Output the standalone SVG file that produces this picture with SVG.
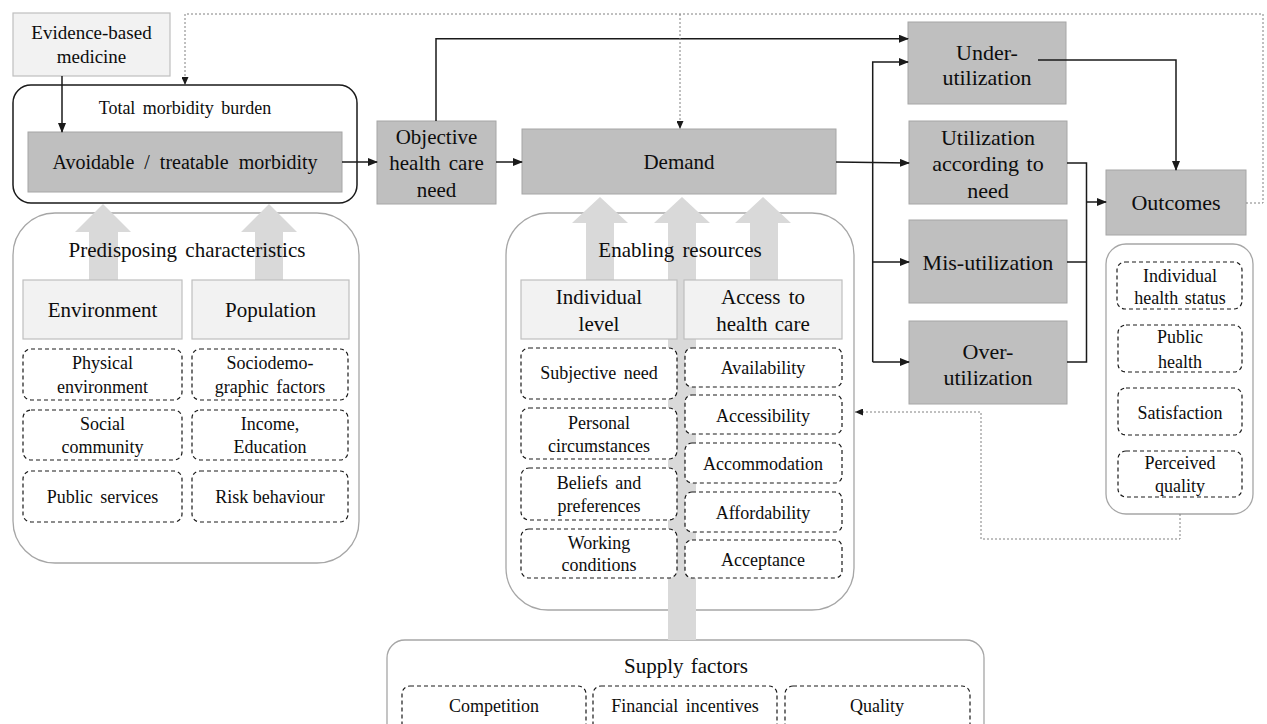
<svg xmlns="http://www.w3.org/2000/svg" width="1267" height="724" viewBox="0 0 1267 724">
<style>
text{font-family:"Liberation Serif","Times New Roman",serif;fill:#0d0d0d;text-anchor:middle}
.s18{font-size:18px}.s19{font-size:19px}.s20{font-size:20px}.s21{font-size:21px}.s22{font-size:22px}
.dark{fill:#bfbfbf;stroke:#a6a6a6;stroke-width:1}
.light{fill:#f2f2f2;stroke:#bfbfbf;stroke-width:1.2}
.panel{fill:#fff;stroke:#a6a6a6;stroke-width:1.3}
.dash{fill:#fff;stroke:#1a1a1a;stroke-width:1.2;stroke-dasharray:4,3}
.big{fill:#d9d9d9}
.ln{fill:none;stroke:#1a1a1a;stroke-width:1.5}
.dot{fill:none;stroke:#808080;stroke-width:1;stroke-dasharray:2,2}
</style>
<defs>
<marker id="ah" markerWidth="10" markerHeight="8" refX="9" refY="4" orient="auto" markerUnits="userSpaceOnUse"><path d="M0,0 L10,4 L0,8 Z" fill="#1a1a1a"/></marker>
<marker id="ahs" markerWidth="8" markerHeight="7" refX="8" refY="3.5" orient="auto" markerUnits="userSpaceOnUse"><path d="M0,0 L8,3.5 L0,7 Z" fill="#1a1a1a"/></marker>
</defs>

<!-- Panels -->
<g id="predisposing">
<rect class="panel" x="13" y="213" width="346" height="350" rx="42"/>
<path class="big" d="M89,280 V232 H75 L103,204 L131,232 H118 V280 Z"/>
<path class="big" d="M255,280 V232 H241 L269,204 L297,232 H283 V280 Z"/>
<text class="s21" x="187" y="257" word-spacing="3">Predisposing characteristics</text>
<rect class="light" x="23" y="280" width="159" height="59"/>
<text class="s21" x="102.5" y="317">Environment</text>
<rect class="light" x="192" y="280" width="157" height="59"/>
<text class="s21" x="270.5" y="317">Population</text>
<rect class="dash" x="23" y="349" width="159" height="51" rx="8"/>
<text class="s18" x="102.5" y="369">Physical</text><text class="s18" x="102.5" y="393">environment</text>
<rect class="dash" x="23" y="410" width="159" height="50" rx="8"/>
<text class="s18" x="102.5" y="430">Social</text><text class="s18" x="102.5" y="453">community</text>
<rect class="dash" x="23" y="471" width="159" height="51" rx="8"/>
<text class="s18" x="102.5" y="503" word-spacing="3">Public services</text>
<rect class="dash" x="192" y="349" width="156" height="51" rx="8"/>
<text class="s18" x="270" y="369">Sociodemo-</text><text class="s18" x="270" y="393" word-spacing="3">graphic factors</text>
<rect class="dash" x="192" y="410" width="156" height="50" rx="8"/>
<text class="s18" x="270" y="430">Income,</text><text class="s18" x="270" y="453">Education</text>
<rect class="dash" x="192" y="471" width="156" height="51" rx="8"/>
<text class="s18" x="270" y="503">Risk behaviour</text>
</g>

<g id="supply">
<rect class="panel" x="387" y="640" width="597" height="110" rx="18"/>
<text class="s21" x="686" y="673" word-spacing="2">Supply factors</text>
<rect class="dash" x="402" y="686" width="184" height="55" rx="8"/>
<text class="s18" x="494" y="712">Competition</text>
<rect class="dash" x="593" y="686" width="184" height="55" rx="8"/>
<text class="s18" x="685" y="712" word-spacing="3">Financial incentives</text>
<rect class="dash" x="785" y="686" width="185" height="55" rx="8"/>
<text class="s18" x="877" y="712">Quality</text>
</g>

<g id="enabling">
<rect class="panel" x="506" y="213" width="348" height="397" rx="42"/>
<path class="big" d="M586,280 V223 H572 L600,197 L628,223 H614 V280 Z"/>
<path class="big" d="M668,640 V223 H654 L682,197 L710,223 H696 V640 Z"/>
<path class="big" d="M750,280 V223 H735 L763,197 L791,223 H778 V280 Z"/>
<text class="s21" x="680" y="257" word-spacing="3">Enabling resources</text>
<rect class="light" x="521" y="280" width="156" height="59"/>
<text class="s21" x="599" y="304">Individual</text><text class="s21" x="599" y="331">level</text>
<rect class="light" x="684" y="280" width="158" height="59"/>
<text class="s21" x="763" y="304" word-spacing="3">Access to</text><text class="s21" x="763" y="331" word-spacing="2">health care</text>
<rect class="dash" x="521" y="348" width="156" height="51" rx="8"/>
<text class="s18" x="599" y="379" word-spacing="3">Subjective need</text>
<rect class="dash" x="521" y="408" width="156" height="51" rx="8"/>
<text class="s18" x="599" y="429">Personal</text><text class="s18" x="599" y="452">circumstances</text>
<rect class="dash" x="521" y="468" width="156" height="52" rx="8"/>
<text class="s18" x="599" y="489" word-spacing="3">Beliefs and</text><text class="s18" x="599" y="512">preferences</text>
<rect class="dash" x="521" y="529" width="156" height="49" rx="8"/>
<text class="s18" x="599" y="549">Working</text><text class="s18" x="599" y="571">conditions</text>
<rect class="dash" x="685" y="348" width="157" height="39" rx="7"/>
<text class="s18" x="763" y="374">Availability</text>
<rect class="dash" x="685" y="395" width="157" height="39" rx="7"/>
<text class="s18" x="763" y="422">Accessibility</text>
<rect class="dash" x="685" y="443" width="157" height="40" rx="7"/>
<text class="s18" x="763" y="470">Accommodation</text>
<rect class="dash" x="685" y="492" width="157" height="40" rx="7"/>
<text class="s18" x="763" y="519">Affordability</text>
<rect class="dash" x="685" y="540" width="157" height="38" rx="7"/>
<text class="s18" x="763" y="566">Acceptance</text>
</g>

<g id="outcome-measures">
<rect class="panel" x="1106" y="244" width="147" height="270" rx="20"/>
<rect class="dash" x="1117" y="262" width="125" height="47" rx="8"/>
<text class="s18" x="1180" y="282">Individual</text><text class="s18" x="1180" y="304" word-spacing="2">health status</text>
<rect class="dash" x="1118" y="325" width="124" height="47" rx="8"/>
<text class="s18" x="1180" y="343">Public</text><text class="s18" x="1180" y="368">health</text>
<rect class="dash" x="1118" y="388" width="124" height="47" rx="8"/>
<text class="s18" x="1180" y="419">Satisfaction</text>
<rect class="dash" x="1118" y="451" width="124" height="46" rx="8"/>
<text class="s18" x="1180" y="469">Perceived</text><text class="s18" x="1180" y="492">quality</text>
</g>

<!-- Top nodes -->
<g id="ebm">
<rect class="light" x="13" y="13" width="157" height="63"/>
<text class="s19" x="91.5" y="39">Evidence-based</text>
<text class="s19" x="91.5" y="63">medicine</text>
</g>
<g id="total-morbidity">
<rect fill="#fff" stroke="#1a1a1a" stroke-width="1.5" x="13" y="85" width="344" height="118" rx="18"/>
<text class="s18" x="185" y="114" word-spacing="3">Total morbidity burden</text>
</g>
<g id="avoidable">
<rect class="dark" x="28" y="132" width="314" height="60"/>
<text class="s20" x="185" y="169" word-spacing="5">Avoidable / treatable morbidity</text>
</g>
<g id="objective-need">
<rect class="dark" x="377" y="121" width="119" height="83"/>
<text class="s21" x="436.5" y="144">Objective</text>
<text class="s21" x="436.5" y="170" word-spacing="3">health care</text>
<text class="s21" x="436.5" y="197">need</text>
</g>
<g id="demand">
<rect class="dark" x="522" y="129" width="314" height="65"/>
<text class="s21" x="679" y="169">Demand</text>
</g>
<g id="under">
<rect class="dark" x="908" y="22" width="158" height="82"/>
<text class="s22" x="987" y="59.5">Under-</text>
<text class="s22" x="987" y="84.5">utilization</text>
</g>
<g id="according">
<rect class="dark" x="909" y="121" width="158" height="83"/>
<text class="s22" x="988" y="144.5">Utilization</text>
<text class="s22" x="988" y="170.5" word-spacing="2">according to</text>
<text class="s22" x="988" y="197.5">need</text>
</g>
<g id="mis">
<rect class="dark" x="909" y="220" width="158" height="83"/>
<text class="s22" x="988" y="269.5">Mis-utilization</text>
</g>
<g id="over">
<rect class="dark" x="909" y="321" width="158" height="83"/>
<text class="s22" x="988" y="358.5">Over-</text>
<text class="s22" x="988" y="384.5">utilization</text>
</g>
<g id="outcomes">
<rect class="dark" x="1106" y="170" width="140" height="65"/>
<text class="s22" x="1176" y="209.5">Outcomes</text>
</g>

<!-- Connectors -->
<g id="connectors">
<path class="ln" d="M62,76 V132" marker-end="url(#ah)"/>
<path class="ln" d="M342,162 H377" marker-end="url(#ah)"/>
<path class="ln" d="M496,162 H522" marker-end="url(#ah)"/>
<path class="ln" d="M436,121 V38.7 H908" marker-end="url(#ah)"/>
<path class="ln" d="M836,162 L909,163" marker-end="url(#ah)"/>
<path class="ln" d="M872.7,362 V62 H908" marker-end="url(#ah)"/>
<path class="ln" d="M872.7,262 H909" marker-end="url(#ah)"/>
<path class="ln" d="M872.7,362 H909" marker-end="url(#ah)"/>
<path class="ln" d="M1038,60 H1176 V170" marker-end="url(#ah)"/>
<path class="ln" d="M1067,163 H1086.5 V362 H1067"/>
<path class="ln" d="M1067,262 H1086.5"/>
<path class="ln" d="M1086.5,202 H1106" marker-end="url(#ah)"/>
<path class="dot" d="M1246,203 H1263 V14 H185 V85" marker-end="url(#ahs)"/>
<path class="dot" d="M680,14 V129" marker-end="url(#ahs)"/>
<path class="dot" d="M1180,514 V539 H981 V412 H855" marker-end="url(#ahs)"/>
</g>
</svg>
